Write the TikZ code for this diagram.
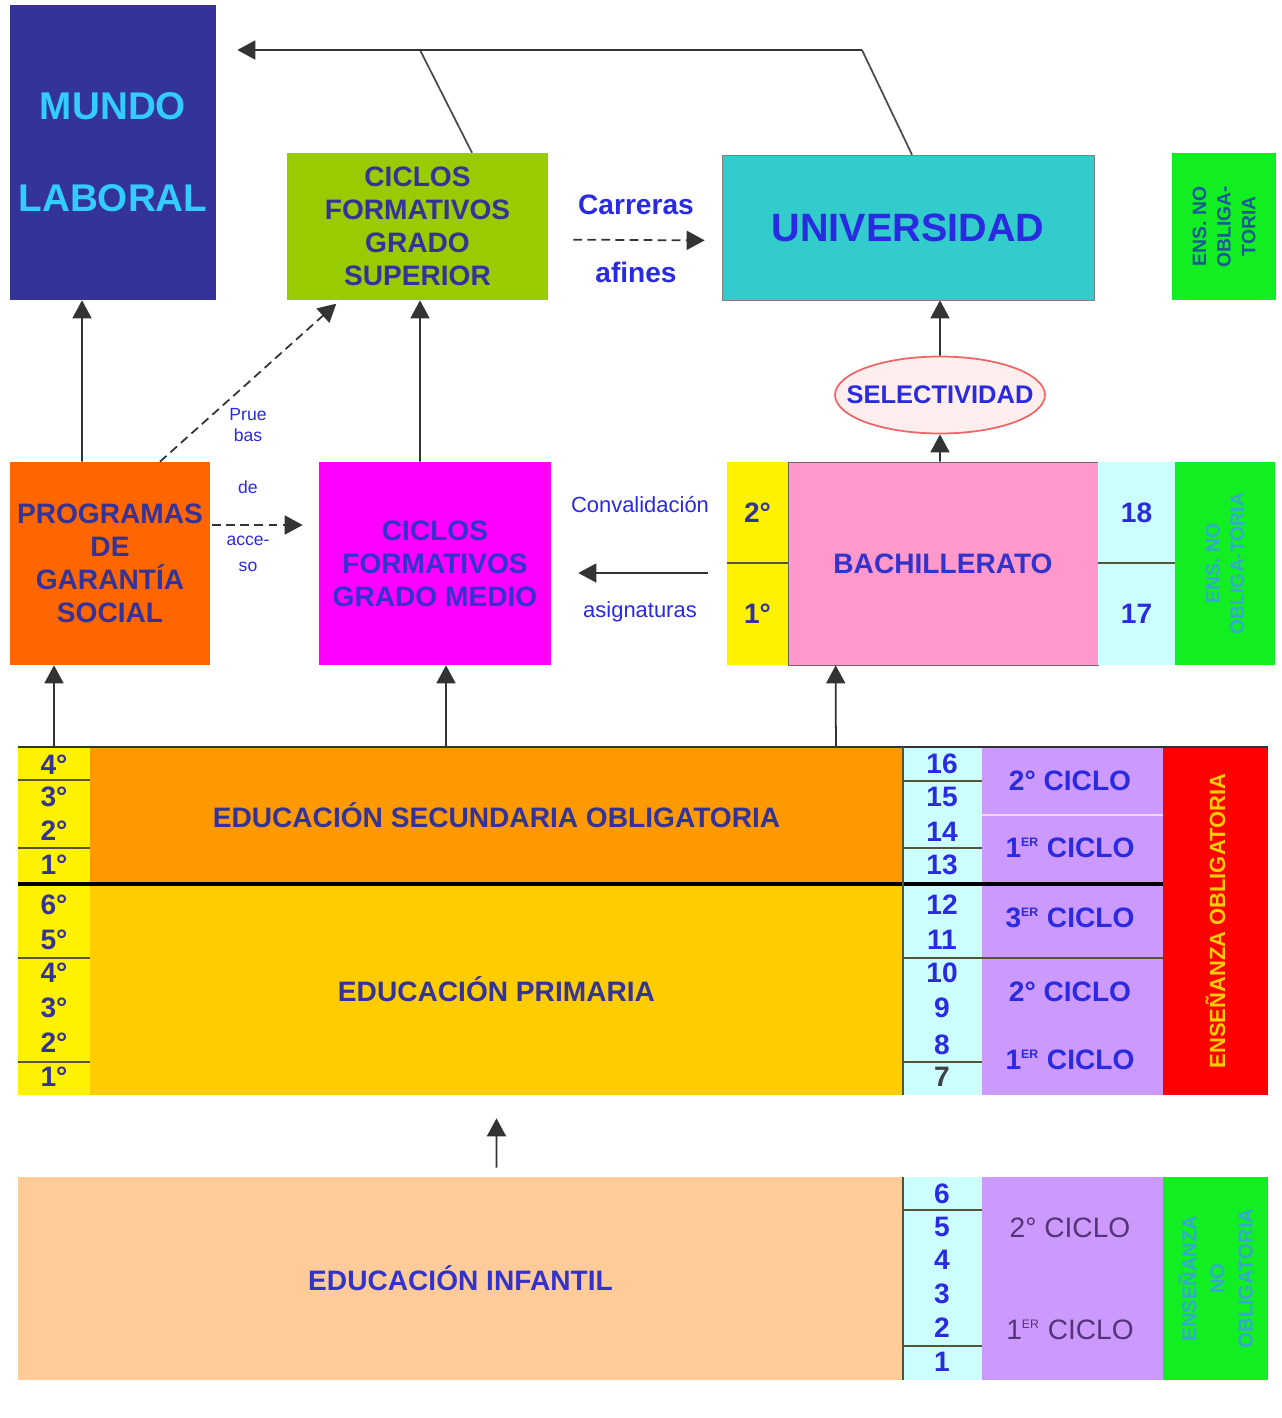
\documentclass[tikz,border=0pt]{standalone}
\usepackage{fontspec}
\setmainfont{Liberation Sans}
\usetikzlibrary{arrows.meta,shapes.geometric}

\definecolor{navy}{HTML}{333399}
\definecolor{txtblue}{HTML}{2A2AE0}
\definecolor{medtxt}{HTML}{3333CC}
\definecolor{mundofill}{HTML}{333399}
\definecolor{mundotxt}{HTML}{33CCFF}
\definecolor{supfill}{HTML}{99CC00}
\definecolor{unifill}{HTML}{33CCCC}
\definecolor{vivgreen}{HTML}{11EE22}
\definecolor{pgsfill}{HTML}{FF6600}
\definecolor{medfill}{HTML}{FF00FF}
\definecolor{bachfill}{HTML}{FF99CC}
\definecolor{agefill}{HTML}{CCFFFF}
\definecolor{cycfill}{HTML}{CC99FF}
\definecolor{esofill}{HTML}{FF9900}
\definecolor{prifill}{HTML}{FFCC00}
\definecolor{inffill}{HTML}{FFCC99}
\definecolor{sepline}{HTML}{555533}
\definecolor{selfill}{HTML}{FFEEEE}
\definecolor{selline}{HTML}{EE6666}
\definecolor{redtxt}{HTML}{FFCC00}
\definecolor{darkteal}{HTML}{1A5A99}
\definecolor{lightteal}{HTML}{33AACC}
\definecolor{inftxt}{HTML}{553377}

\newcommand{\boxfont}{\fontsize{16}{18.7}\selectfont\bfseries}
\newcommand{\rotfont}{\fontsize{11}{14}\selectfont\bfseries}
\newcommand{\ersup}{\textsuperscript{\fontsize{7}{8}\selectfont ER}}

\begin{document}
\begin{tikzpicture}[
        x=0.02cm, y=-0.02cm,
        block/.style = {inner sep=0pt, align=center, font=\boxfont},
        arr/.style = {draw=black!80, line width=1pt, -{Triangle[length=0.36cm,width=0.38cm]}},
        dasharr/.style = {arr, dash pattern=on 5pt off 3pt},
        conn/.style = {draw=black!70, line width=1pt},
        rule/.style = {draw=sepline, line width=1.2pt},
        small/.style = {align=center, text=txtblue},
        yearlbl/.style = {font=\boxfont, text=navy},
        agelbl/.style = {font=\boxfont, text=txtblue},
        cyclbl/.style = {font=\boxfont, text=txtblue}
    ]
        \fill[white] (0,0) rectangle (1282,1418);

        % Salidas superiores
        \node[block, fill=mundofill, text=mundotxt, minimum width=4.12cm, minimum height=5.9cm,
              font=\fontsize{22}{26.4}\selectfont\bfseries] (mundo) at (113,152.5) {MUNDO\\[26pt]LABORAL};
        \node[block, fill=supfill, text=navy, minimum width=5.22cm, minimum height=2.94cm] (cfgs) at (417.5,226.5)
              {CICLOS\\FORMATIVOS\\GRADO\\SUPERIOR};
        \node[block, fill=unifill, text=txtblue, draw=black!50, minimum width=7.44cm, minimum height=2.9cm,
              font=\fontsize{22.5}{27}\selectfont\bfseries] (univ) at (908,227.5) {UNIVERSIDAD};
        \node[block, fill=vivgreen, text=darkteal, rotate=90, minimum width=2.94cm, minimum height=2.08cm,
              font=\rotfont] (ensSup) at (1224,226.5) {ENS. NO\\OBLIGA-\\TORIA};
        \node[font=\fontsize{16}{19}\selectfont\bfseries, text=txtblue] (carr) at (636,205) {Carreras};
        \node[font=\fontsize{16}{19}\selectfont\bfseries, text=txtblue] (afin) at (636,272) {afines};
        \node[ellipse, draw=selline, fill=selfill, line width=1pt, minimum width=4.2cm,
              minimum height=1.54cm, inner sep=0pt] (sel) at (940,395) {};
        \node[text=txtblue, font=\fontsize{14.5}{17}\selectfont\bfseries] (selTxt) at (sel) {SELECTIVIDAD};

        % Nivel medio
        \node[block, fill=pgsfill, text=navy, minimum width=4cm, minimum height=4.06cm] (pgs) at (110,563.5)
              {PROGRAMAS\\DE\\GARANTÍA\\SOCIAL};
        \node[small, font=\fontsize{10}{11.5}\selectfont] (prue) at (248,425) {Prue\\bas};
        \node[small, font=\fontsize{10}{11.5}\selectfont] (de) at (248,487) {de};
        \node[small, font=\fontsize{10}{11.5}\selectfont] (acce) at (248,554) {acce-\\[3pt]so};
        \node[block, fill=medfill, text=medtxt, minimum width=4.64cm, minimum height=4.06cm] (cfgm) at (435,563.5)
              {CICLOS\\FORMATIVOS\\GRADO MEDIO};
        \node[small, font=\fontsize{12.5}{15}\selectfont] (conv) at (640,505) {Convalidación};
        \node[small, font=\fontsize{12.5}{15}\selectfont] (asig) at (640,612) {asignaturas};
        \node[block, fill=yellow, text=navy, minimum width=1.22cm, minimum height=2.02cm] (bach2) at (757.5,512.5) {2°};
        \node[block, fill=yellow, text=navy, minimum width=1.22cm, minimum height=2.04cm] (bach1) at (757.5,614) {1°};
        \node[block, fill=bachfill, draw=black!60, text=medtxt, minimum width=6.2cm, minimum height=4.06cm] (bach) at (943,563.5)
              {BACHILLERATO};
        \node[block, fill=agefill, text=txtblue, minimum width=1.54cm, minimum height=2.02cm] (age18) at (1136.5,512.5) {18};
        \node[block, fill=agefill, text=txtblue, minimum width=1.54cm, minimum height=2.04cm] (age17) at (1136.5,614) {17};
        \node[block, fill=vivgreen, text=lightteal, rotate=90, minimum width=4.06cm, minimum height=2cm,
              font=\rotfont] (ensBach) at (1225,563.5) {ENS. NO\\OBLIGA-TORIA};
        \draw[rule] (bach2.south west) -- (bach2.south east);
        \draw[rule] (age18.south west) -- (age18.south east);

        % ESO
        \node[block, fill=yellow, minimum width=1.44cm, minimum height=2.74cm] (esoY) at (54,815.5) {};
        \node[block, fill=esofill, text=navy, minimum width=16.26cm, minimum height=2.74cm] (eso) at (496.5,815.5)
              {EDUCACIÓN SECUNDARIA OBLIGATORIA};
        \node[block, fill=agefill, minimum width=1.58cm, minimum height=2.74cm] (esoA) at (942.5,815.5) {};
        \node[block, fill=cycfill, minimum width=3.62cm, minimum height=2.74cm] (esoC) at (1072.5,815.5) {};

        % Primaria
        \node[block, fill=yellow, minimum width=1.44cm, minimum height=4.22cm] (priY) at (54,989.5) {};
        \node[block, fill=prifill, text=navy, minimum width=16.26cm, minimum height=4.22cm] (pri) at (496.5,989.5)
              {EDUCACIÓN PRIMARIA};
        \node[block, fill=agefill, minimum width=1.58cm, minimum height=4.22cm] (priA) at (942.5,989.5) {};
        \node[block, fill=cycfill, minimum width=3.62cm, minimum height=4.22cm] (priC) at (1072.5,989.5) {};
        \node[block, fill=red, text=redtxt, rotate=90, minimum width=6.96cm, minimum height=2.1cm,
              font=\fontsize{12.5}{15}\selectfont\bfseries] (ensObl) at (1215.5,921) {ENSEÑANZA OBLIGATORIA};

        % Infantil
        \node[block, fill=inffill, text=medtxt, minimum width=17.7cm, minimum height=4.06cm] (inf) at (460.5,1278.5)
              {EDUCACIÓN INFANTIL};
        \node[block, fill=agefill, minimum width=1.58cm, minimum height=4.06cm] (infA) at (942.5,1278.5) {};
        \node[block, fill=cycfill, minimum width=3.62cm, minimum height=4.06cm] (infC) at (1072.5,1278.5) {};
        \node[block, fill=vivgreen, text=lightteal, rotate=90, minimum width=4.06cm, minimum height=2.1cm,
              font=\fontsize{11.5}{16}\selectfont\bfseries] (ensInf) at (1215.5,1278.5) {ENSEÑANZA\\NO\\OBLIGATORIA};

        % Cursos y edades
        \foreach \lbl/\yy in {4°/765, 3°/797, 2°/831, 1°/865, 6°/905, 5°/940, 4°/973, 3°/1008, 2°/1043, 1°/1077}
            \node[yearlbl] (yr-\yy) at (54,\yy) {\lbl};
        \foreach \lbl/\yy in {16/764, 15/797, 14/832, 13/865, 12/905, 11/940, 10/973, 9/1008, 8/1045,
                              6/1194, 5/1227, 4/1260, 3/1294, 2/1328, 1/1362}
            \node[agelbl] (age-\lbl) at (942,\yy) {\lbl};
        \node[agelbl, text=black!75] (age-7) at (942,1077) {7};

        % Ciclos
        \node[cyclbl] (cycE2) at (1070,781) {2° CICLO};
        \node[cyclbl] (cycE1) at (1070,848) {1\ersup{} CICLO};
        \node[cyclbl] (cycP3) at (1070,918) {3\ersup{} CICLO};
        \node[cyclbl] (cycP2) at (1070,992) {2° CICLO};
        \node[cyclbl] (cycP1) at (1070,1060) {1\ersup{} CICLO};
        \node[cyclbl, font=\fontsize{16}{19}\selectfont, text=inftxt] (cycI2) at (1070,1228) {2° CICLO};
        \node[cyclbl, font=\fontsize{16}{19}\selectfont, text=inftxt] (cycI1) at (1070,1330) {1\ersup{} CICLO};

        % Separadores
        \foreach \yy in {780, 848, 958, 1062}
            \draw[rule] (18,\yy) -- (90,\yy);
        \foreach \yy in {781, 848, 958, 1062, 1210, 1346}
            \draw[rule] (903,\yy) -- (982,\yy);
        \draw[rule] (982,958) -- (1163,958);
        \draw[white!60!cycfill, line width=1.5pt] (982,815) -- (1163,815);
        \draw[black!80, line width=1.2pt] (18,747) -- (1268,747);
        \draw[black, line width=2.4pt] (18,884) -- (1163,884);
        \draw[sepline, line width=1.5pt] (903,747) -- (903,1095);
        \draw[sepline, line width=1.5pt] (903,1177) -- (903,1380);

        % Conexiones
        \coordinate (jU) at (862,50);
        \coordinate (jC) at (420,50);
        \draw[conn] ([xshift=0.08cm]univ.north) -- (jU);
        \draw[conn] ([xshift=1.09cm]cfgs.north) -- (jC);
        \draw[arr, shorten >=0.42cm] (jU) -- (jU -| mundo.east);
        \draw[dasharr, shorten <=0.5cm, shorten >=0.34cm] ([yshift=-0.26cm]cfgs.east) -- ([yshift=-0.26cm]univ.west);
        \draw[arr] (sel.north) -- ([xshift=0.64cm]univ.south);
        \draw[arr] ([xshift=-0.06cm]bach.north) -- (sel.south);
        \draw[arr] ([xshift=-0.56cm]pgs.north) -- ([xshift=-0.62cm]mundo.south);
        \draw[dasharr, shorten >=0.1cm] ([xshift=1cm]pgs.north) -- ([xshift=-1.55cm]cfgs.south);
        \draw[arr] ([xshift=-0.3cm]cfgm.north) -- ([xshift=0.05cm]cfgs.south);
        \draw[dasharr, shorten <=0.04cm, shorten >=0.32cm] ([yshift=0.77cm]pgs.east) -- ([yshift=0.77cm]cfgm.west);
        \draw[arr, shorten <=1.6cm, shorten >=0.54cm] ([yshift=-0.19cm]bach.west) -- ([yshift=-0.19cm]cfgm.east);
        \draw[arr] (esoY.north) -- ([xshift=-1.12cm]pgs.south);
        \draw[arr] ([xshift=-1.01cm]eso.north) -- ([xshift=0.22cm]cfgm.south);
        \draw[arr] ([xshift=6.79cm]eso.north) -- ([xshift=0.96cm]bach.south west);
        \draw[arr, shorten <=0.18cm, shorten >=0.46cm] ([xshift=0.72cm]inf.north) -- (pri.south);

    \end{tikzpicture}
\end{document}
